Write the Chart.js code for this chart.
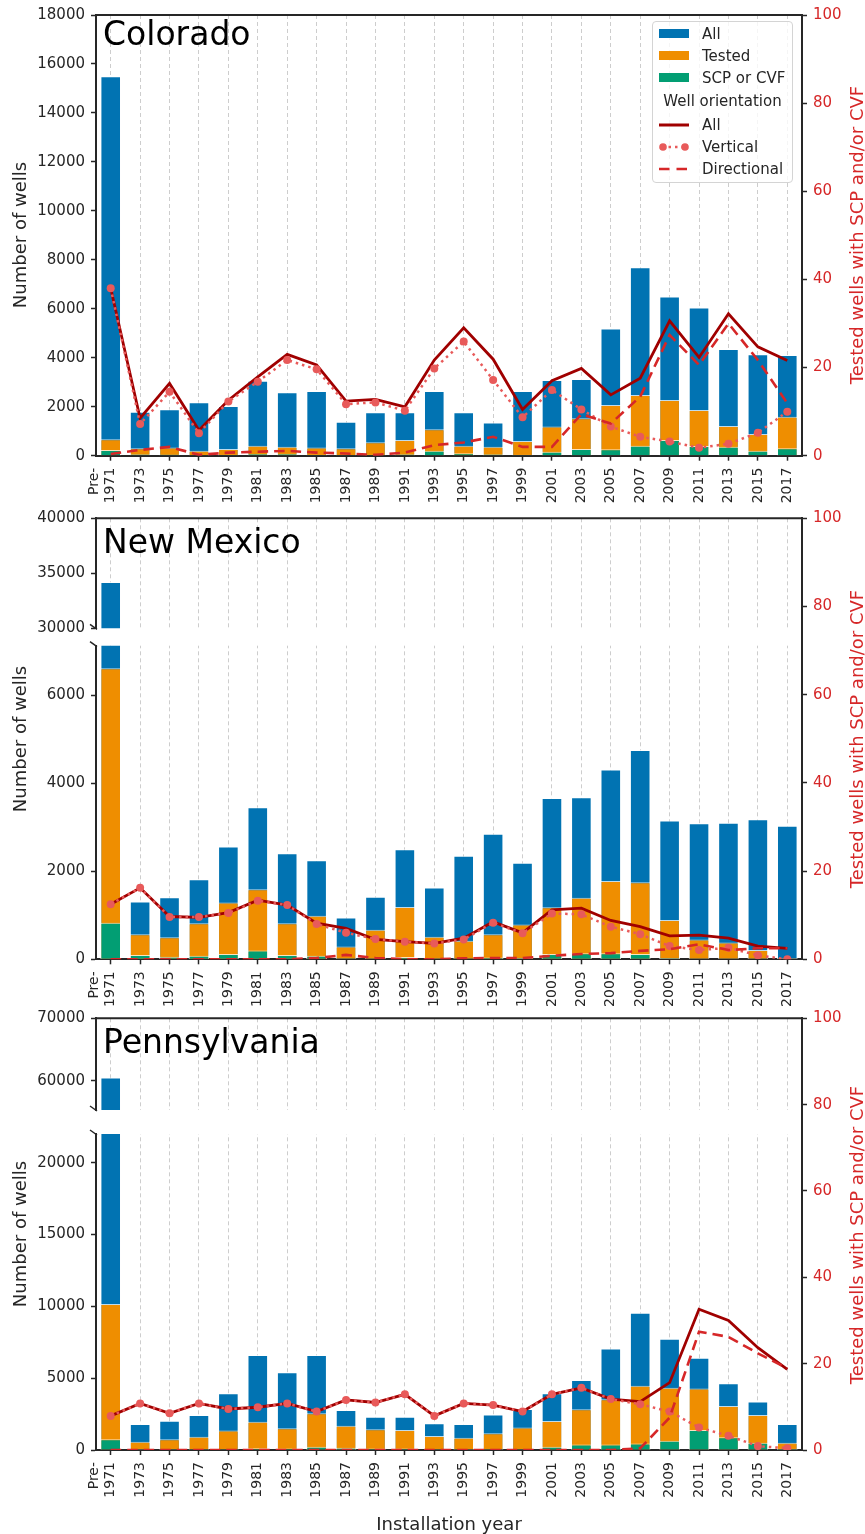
<!DOCTYPE html>
<html>
<head>
<meta charset="utf-8">
<script src="https://cdn.jsdelivr.net/npm/chart.js@4.4.1/dist/chart.umd.min.js"></script>
<style>
  body { margin: 0; background: #fff; font-family: 'DejaVu Sans', sans-serif; color: #262626; }
  #figure { position: relative; width: 865px; height: 1534px; overflow: hidden; }
  #figure canvas { position: absolute; left: 0; }
  .state { position: absolute; left: 103px; font-size: 33px; line-height: 33px; color: #000; white-space: nowrap; }
  .ylab { position: absolute; font-size: 18px; white-space: nowrap; transform: translate(-50%, -50%) rotate(-90deg); }
  .ylab.right { color: #d62728; }
  #xlab { position: absolute; left: 0; width: 898px; top: 1513px; text-align: center; font-size: 18px; line-height: 22px; }
  #legend { position: absolute; left: 652px; top: 21px; width: 141px; height: 162px; box-sizing: border-box;
            border: 1px solid #d4d4d4; border-radius: 4px; background: rgba(255,255,255,0.8);
            font-size: 15px; color: #262626; padding-top: 0.5px; }
  #legend .item { height: 22px; display: flex; align-items: center; padding-left: 6px; }
  #legend .patch { width: 30px; height: 9px; margin-right: 13px; display: inline-block; }
  #legend svg { margin-right: 13px; }
  #legend .head { height: 25px; line-height: 25px; text-align: center; }
</style>
</head>
<body>
<div id="figure">
  <canvas id="coChart" width="865" height="510" style="top:0px"></canvas>
  <canvas id="nmChart" width="865" height="510" style="top:500px"></canvas>
  <canvas id="paChart" width="865" height="534" style="top:1000px"></canvas>

  <div class="state" style="top:17px">Colorado</div>
  <div class="state" style="top:525px">New Mexico</div>
  <div class="state" style="top:1025px">Pennsylvania</div>

  <div class="ylab" style="left:19px; top:235px">Number of wells</div>
  <div class="ylab" style="left:19px; top:739px">Number of wells</div>
  <div class="ylab" style="left:19px; top:1234px">Number of wells</div>
  <div class="ylab right" style="left:856px; top:235px">Tested wells with SCP and/or CVF</div>
  <div class="ylab right" style="left:856px; top:739px">Tested wells with SCP and/or CVF</div>
  <div class="ylab right" style="left:856px; top:1235px">Tested wells with SCP and/or CVF</div>
  <div id="xlab">Installation year</div>

  <div id="legend">
    <div class="item"><span class="patch" style="background:#0173b2"></span>All</div>
    <div class="item"><span class="patch" style="background:#ef8e00"></span>Tested</div>
    <div class="item"><span class="patch" style="background:#029e73"></span>SCP or CVF</div>
    <div class="head">Well orientation</div>
    <div class="item"><svg width="30" height="12"><line x1="0" y1="6" x2="30" y2="6" stroke="#a00000" stroke-width="3"/></svg>All</div>
    <div class="item"><svg width="30" height="12"><line x1="3" y1="6" x2="27" y2="6" stroke="#e85a5a" stroke-width="2.5" stroke-dasharray="2.5 4"/><circle cx="4" cy="6" r="3.8" fill="#e85a5a"/><circle cx="26" cy="6" r="3.8" fill="#e85a5a"/></svg>Vertical</div>
    <div class="item"><svg width="30" height="12"><line x1="0" y1="6" x2="30" y2="6" stroke="#d62728" stroke-width="2.6" stroke-dasharray="10.5 7"/></svg>Directional</div>
  </div>
</div>

<script>
const years = ['Pre-1971', '1973', '1975', '1977', '1979', '1981', '1983', '1985', '1987', '1989', '1991', '1993',
               '1995', '1997', '1999', '2001', '2003', '2005', '2007', '2009', '2011', '2013', '2015', '2017'];

// Colorado
const coAll    = [15500, 1800, 1900, 2180, 2030, 3060, 2590, 2640, 1390, 1770, 1770, 2640, 1770, 1360, 2640, 3090, 3130, 5200, 7700, 6500, 6050, 4360, 4140, 4110];
const coTested = [670, 300, 330, 200, 270, 410, 370, 330, 300, 550, 640, 1080, 410, 370, 600, 1190, 1530, 2070, 2480, 2280, 1870, 1210, 890, 1590];
const coScp    = [230, 60, 50, 30, 40, 70, 80, 40, 30, 40, 60, 200, 100, 60, 40, 160, 270, 260, 410, 640, 400, 370, 200, 300];
const coPctAll  = [38.0, 8.5, 16.4, 5.8, 12.6, 17.9, 23.0, 20.6, 12.4, 12.8, 11.1, 21.7, 29.0, 21.9, 10.5, 17.0, 19.8, 13.8, 17.6, 30.6, 22.3, 32.2, 24.7, 21.6];
const coPctVert = [38.0, 7.2, 14.5, 5.1, 12.3, 16.8, 21.7, 19.6, 11.7, 12.1, 10.2, 19.8, 25.9, 17.2, 8.7, 14.9, 10.5, 6.6, 4.3, 3.2, 1.8, 2.7, 5.2, 10.0];
const coPctDir  = [0.4, 1.3, 2.0, 0.2, 0.7, 0.9, 1.1, 0.7, 0.5, 0.2, 0.7, 2.4, 3.0, 4.3, 2.0, 2.0, 9.4, 7.3, 13.4, 27.4, 20.6, 30.0, 21.7, 11.9];
const coTicks = [0, 2000, 4000, 6000, 8000, 10000, 12000, 14000, 16000, 18000];

// New Mexico
const nmAll    = [34200, 1310, 1410, 1820, 2560, 3450, 2410, 2250, 950, 1420, 2500, 1630, 2350, 2850, 2190, 3660, 3680, 4310, 4750, 3150, 3090, 3100, 3180, 3030];
const nmTested = [6610, 570, 500, 820, 1290, 1590, 820, 990, 290, 670, 1190, 510, 420, 570, 790, 1180, 1400, 1780, 1750, 890, 450, 380, 210, 30];
const nmScp    = [830, 100, 60, 80, 120, 200, 100, 80, 20, 10, 50, 15, 15, 40, 30, 120, 140, 140, 120, 30, 15, 15, 10, 5];
const nmPctAll  = [12.5, 16.2, 9.7, 9.5, 10.6, 13.4, 12.3, 8.2, 7.0, 4.5, 4.0, 3.6, 4.8, 8.5, 6.0, 11.2, 11.6, 8.8, 7.4, 5.3, 5.5, 4.8, 3.0, 2.5];
const nmPctVert = [12.5, 16.2, 9.6, 9.6, 10.5, 13.3, 12.3, 8.0, 6.0, 4.6, 4.0, 3.6, 4.5, 8.3, 5.9, 10.4, 10.2, 7.4, 5.7, 3.0, 2.1, 2.6, 0.9, 0];
const nmPctDir  = [0, 0, 0, 0, 0, 0, 0, 0.3, 1.0, 0.3, 0, 0, 0.2, 0.3, 0.3, 0.8, 1.2, 1.4, 1.9, 2.3, 3.4, 2.1, 2.5, 2.5];
const nmTicks = [0, 2000, 4000, 6000];
const nmTopTicks = [30000, 35000, 40000];

// Pennsylvania
const paAll    = [60500, 1810, 2040, 2440, 3950, 6610, 5410, 6610, 2780, 2320, 2320, 1860, 1810, 2480, 2850, 3950, 4870, 7060, 9560, 7750, 6430, 4640, 3370, 1810];
const paTested = [10160, 580, 740, 930, 1350, 1970, 1510, 2550, 1690, 1440, 1390, 970, 860, 1160, 1560, 2020, 2830, 3530, 4480, 4340, 4290, 3060, 2440, 510];
const paScp    = [740, 50, 60, 60, 60, 120, 100, 230, 150, 100, 100, 50, 50, 50, 60, 230, 390, 390, 460, 650, 1390, 880, 510, 80];
const paPctAll  = [7.9, 10.8, 8.5, 10.8, 9.5, 9.9, 10.8, 8.9, 11.6, 11.0, 12.9, 7.9, 10.8, 10.4, 8.9, 12.9, 14.4, 11.8, 11.2, 15.6, 32.6, 30.0, 23.7, 18.7];
const paPctVert = [7.9, 10.8, 8.5, 10.8, 9.5, 9.9, 10.8, 8.9, 11.6, 11.0, 12.9, 7.9, 10.8, 10.4, 8.9, 12.9, 14.4, 11.8, 10.6, 8.9, 5.2, 3.3, 0.9, 0.4];
const paPctDir  = [0, 0, 0, 0, 0, 0, 0, 0, 0, 0, 0, 0, 0, 0, 0, 0, 0, 0, 0.4, 7.5, 27.4, 26.2, 22.4, 18.9];
const paTicks = [0, 5000, 10000, 15000, 20000];
const paTopTicks = [60000, 70000];

const pctTicks = [0, 20, 40, 60, 80, 100];

const BLUE = '#0173b2', ORANGE = '#ef8e00', GREEN = '#029e73';
const DARKRED = '#a00000', LIGHTRED = '#e85a5a', RED = '#d62728';
const INK = '#262626';

Chart.defaults.font.family = "'DejaVu Sans', sans-serif";
Chart.defaults.color = INK;

// top spine, broken left axis and the gap between the two parts
const brokenAxis = {
  id: 'brokenAxis',
  afterLayout(chart, args, opts) {
    if (!opts.topHeight) return;
    const area = chart.chartArea;
    const upper = chart.scales.yTop, lower = chart.scales.y;
    upper.top = area.top;
    upper.bottom = area.top + opts.topHeight;
    lower.top = upper.bottom + opts.gap;
    lower.bottom = area.bottom;
    [upper, lower].forEach(s => { s.height = s.bottom - s.top; s.configure(); });
  },
  beforeDatasetsDraw(chart, args, opts) {
    if (!opts.topHeight) return;
    const area = chart.chartArea, ctx = chart.ctx;
    ctx.save();
    ctx.fillStyle = '#fff';
    ctx.fillRect(area.left + 1, area.top + opts.topHeight, area.width - 2.2, opts.gap);
    ctx.restore();
  },
  afterDraw(chart, args, opts) {
    const area = chart.chartArea, ctx = chart.ctx;
    ctx.save();
    ctx.strokeStyle = INK;
    ctx.lineWidth = 2;
    ctx.beginPath();
    ctx.moveTo(area.left - 1, area.top);
    ctx.lineTo(area.right + 1, area.top);
    ctx.stroke();
    if (opts.topHeight) {
      ctx.lineWidth = 1.5;
      const ys = [area.top + opts.topHeight, area.top + opts.topHeight + opts.gap];
      ys.forEach(y => {
        ctx.beginPath();
        ctx.moveTo(area.left - 6, y - 4);
        ctx.lineTo(area.left + 1, y + 1);
        ctx.stroke();
      });
    }
    ctx.restore();
  }
};

function barSet(label, data, color, order, axis, clip) {
  return {
    type: 'bar', label: label, data: data, yAxisID: axis, order: order,
    backgroundColor: color, borderColor: 'rgba(255,255,255,0.75)', borderWidth: 1,
    grouped: false, barPercentage: 0.7, categoryPercentage: 1, clip: clip
  };
}

function lineSet(label, data, color, width, dash, radius, order) {
  return {
    type: 'line', label: label, data: data, yAxisID: 'y2', order: order,
    borderColor: color, borderWidth: width, borderDash: dash, tension: 0, fill: false,
    pointRadius: radius, pointBackgroundColor: color, pointBorderWidth: 0, pointHoverRadius: radius
  };
}

function fixedTicks(values) {
  return s => { s.ticks = values.map(v => ({ value: v })); };
}

function leftAxis(min, max, tickValues) {
  return {
    type: 'linear', position: 'left', stack: 'left', min: min, max: max, clip: false,
    afterBuildTicks: fixedTicks(tickValues),
    ticks: { padding: 6, color: INK, font: { size: 15 }, callback: v => String(v) },
    grid: { drawOnChartArea: false, drawTicks: true, tickLength: 5, tickColor: INK, tickWidth: 1.5 },
    border: { color: INK, width: 2 },
    afterFit: s => { s.width = 96; }
  };
}

function drawPanel(canvasId, p) {
  const areaH = p.bottom - p.top;
  const datasets = [];
  let lowClip;
  const scales = {
    x: {
      type: 'category', labels: years, offset: true, clip: false,
      grid: { offset: false, color: '#cdcdcd', lineWidth: 1, drawTicks: true, tickLength: 5, tickColor: INK, tickWidth: 1.5 },
      border: { display: true, color: INK, width: 2, dash: [4, 3] },
      ticks: {
        autoSkip: false, minRotation: 90, maxRotation: 90, padding: 7, color: INK,
        font: { size: 14 }, labelOffset: -16.8,
        callback: function (value) {
          const label = this.getLabelForValue(value);
          const parts = label.split('-');
          return parts.length > 1 ? [parts[0] + '-', parts[1]] : ['', label];
        }
      },
      afterFit: s => { s.height = p.canvasH - p.bottom; }
    },
    y: leftAxis(0, p.yMax, p.ticks),
    y2: {
      type: 'linear', position: 'right', min: 0, max: 100, clip: false,
      afterBuildTicks: fixedTicks(pctTicks),
      ticks: { padding: 6, color: RED, font: { size: 15 }, callback: v => String(v) },
      grid: { drawOnChartArea: false, drawTicks: true, tickLength: 5, tickColor: INK, tickWidth: 1.5 },
      border: { color: INK, width: 2 },
      afterFit: s => { s.width = 63; }
    }
  };

  if (p.topHeight) {
    scales.yTop = leftAxis(p.topMin, p.topMax, p.topTicks);
    lowClip = { left: 0, right: 0, bottom: 0, top: -(p.topHeight + p.gap) };
    datasets.push(barSet('All', p.all, BLUE, 6, 'yTop', { left: 0, right: 0, top: 0, bottom: -(areaH - p.topHeight) }));
  }

  datasets.push(barSet('All', p.all, BLUE, 6, 'y', lowClip));
  datasets.push(barSet('Tested', p.tested, ORANGE, 5, 'y', lowClip));
  datasets.push(barSet('SCP or CVF', p.scp, GREEN, 4, 'y', lowClip));
  datasets.push(lineSet('All', p.pctAll, DARKRED, 2.8, [], 0, 3));
  datasets.push(lineSet('Vertical', p.pctVert, LIGHTRED, 2.5, [2.5, 4], 4, 2));
  datasets.push(lineSet('Directional', p.pctDir, RED, 2.6, [10.5, 6], 0, 1));

  const ctx = document.getElementById(canvasId).getContext('2d');
  return new Chart(ctx, {
    data: { labels: years, datasets: datasets },
    options: {
      responsive: false,
      animation: false,
      devicePixelRatio: 1,
      layout: { padding: { top: p.top, left: 0, right: 0, bottom: 0 } },
      scales: scales,
      plugins: {
        legend: { display: false },
        tooltip: { enabled: false },
        brokenAxis: { topHeight: p.topHeight, gap: p.gap }
      }
    },
    plugins: [brokenAxis]
  });
}

drawPanel('coChart', {
  all: coAll, tested: coTested, scp: coScp, pctAll: coPctAll, pctVert: coPctVert, pctDir: coPctDir,
  top: 15, bottom: 455.7, canvasH: 510, yMax: 18000, ticks: coTicks
});

drawPanel('nmChart', {
  all: nmAll, tested: nmTested, scp: nmScp, pctAll: nmPctAll, pctVert: nmPctVert, pctDir: nmPctDir,
  top: 18.3, bottom: 459.3, canvasH: 510, yMax: 7120, ticks: nmTicks,
  topMin: 30000, topMax: 40000, topTicks: nmTopTicks, topHeight: 110, gap: 17.4
});

drawPanel('paChart', {
  all: paAll, tested: paTested, scp: paScp, pctAll: paPctAll, pctVert: paPctVert, pctDir: paPctDir,
  top: 18.3, bottom: 450, canvasH: 534, yMax: 22000, ticks: paTicks,
  topMin: 55300, topMax: 70000, topTicks: paTopTicks, topHeight: 91.7, gap: 24
});
</script>
</body>
</html>
